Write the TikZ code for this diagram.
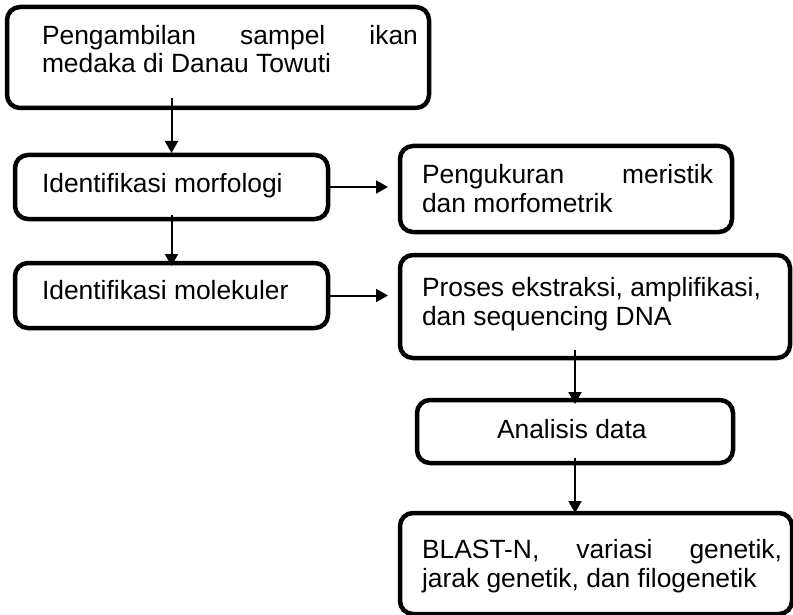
\documentclass[tikz,border=0pt]{standalone}
\usepackage{fontspec}
\setmainfont{Liberation Sans}
\usetikzlibrary{calc,arrows.meta}
\begin{document}
\begin{tikzpicture}[x=1pt,y=-1pt,
  box/.style={draw=black,line width=4.5pt,rounded corners=13pt,inner sep=0pt,outer sep=0pt,fill=white},
  txt/.style={anchor=base west,inner sep=0pt,outer sep=0pt,align=left,font=\fontsize{26.4}{28.5}\selectfont},
  arr/.style={line width=2pt,-{Triangle[length=12pt,width=13pt]}}]
\useasboundingbox (0,0) rectangle (793,615);
\clip (0,0) rectangle (793,615);
% boxes
\node[box,minimum width=422pt,minimum height=101pt] (b1) at (218,57.5) {};
\node[box,minimum width=313pt,minimum height=64pt] (b2) at (171.5,187) {};
\node[box,minimum width=313pt,minimum height=65pt] (b3) at (171.5,295.5) {};
\node[box,minimum width=332pt,minimum height=86pt] (b4) at (566,189) {};
\node[box,minimum width=390pt,minimum height=103pt] (b5) at (595,306.5) {};
\node[box,minimum width=316pt,minimum height=63pt] (b6) at (575,431.5) {};
\node[box,minimum width=392pt,minimum height=101pt] (b7) at (596,563.5) {};
% texts (base anchor = baseline of the last line)
\node[txt] (t1) at (42,73) {\makebox[376pt][l]{Pengambilan\hfill sampel\hfill ikan}\\medaka di Danau Towuti};
\node[txt] (t2) at (42,193) {Identifikasi morfologi};
\node[txt] (t3) at (42,299) {Identifikasi molekuler};
\node[txt] (t4) at (422,212) {\makebox[291pt][l]{Pengukuran\hfill meristik}\\dan morfometrik};
\node[txt] (t5) at (422,325) {Proses ekstraksi, amplifikasi,\\dan sequencing DNA};
\node[txt] (t6) at (497,438) {Analisis data};
\node[txt] (t7) at (422,587) {\makebox[360pt][l]{BLAST-N,\hfill variasi\hfill genetik,}\\jarak genetik, dan filogenetik};
% connectors
\draw[arr] ($(b1.south -| b2.north)+(0,-10)$) -- ($(b2.north)+(0,-2)$);
\draw[arr] ($(b2.south)+(0,-4)$) -- ($(b3.north)+(0,3)$);
\draw[arr] (b2.east) -- ($(b4.west |- b2.east)+(-12,0)$);
\draw[arr] (b3.east) -- ($(b5.west |- b3.east)+(-12,0)$);
\draw[arr] ($(b5.south -| b6.north)+(0,-8)$) -- ($(b6.north)+(0,4)$);
\draw[arr] ($(b6.south)+(0,-5)$) -- (b6.south |- b7.north);
\end{tikzpicture}
\end{document}
